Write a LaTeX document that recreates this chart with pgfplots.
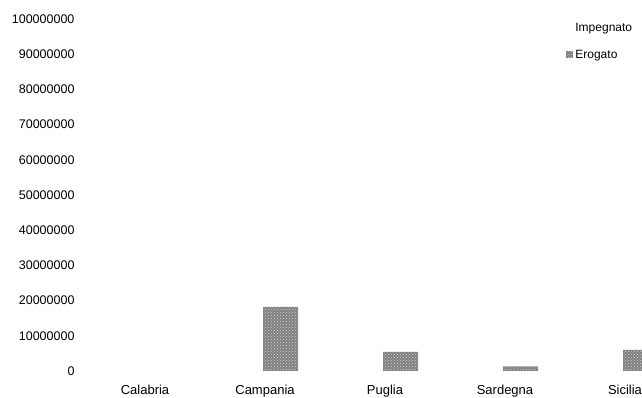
\documentclass[border=0pt]{standalone}
\usepackage{fontspec}
\setmainfont{Liberation Sans}
\usepackage{pgfplots}
\pgfplotsset{compat=1.18}
\usetikzlibrary{patterns}

\begin{document}
\begin{tikzpicture}
\clip (0,0) rectangle (642pt,398pt);
\begin{axis}[
  at={(85pt,27pt)}, anchor=south west,
  scale only axis, width=600pt, height=352pt,
  xmin=-0.5, xmax=4.5, ymin=0, ymax=100000000,
  ybar, bar width=35pt,
  axis line style={draw=none},
  tick style={draw=none},
  xtick={0,1,2,3,4},
  xticklabels={Calabria,Campania,Puglia,Sardegna,Sicilia},
  xticklabel style={font=\fontsize{13}{14}\selectfont, yshift=-6pt},
  ytick={0,10000000,20000000,30000000,40000000,50000000,60000000,70000000,80000000,90000000,100000000},
  scaled y ticks=false,
  /pgf/number format/assume math mode=true,
  yticklabel style={/pgf/number format/fixed, /pgf/number format/1000 sep={},
    font=\fontsize{12.5}{13}\selectfont, xshift=-7pt},
  legend style={at={(0.797,1.0)}, anchor=north west, draw=none, fill=none,
    font=\fontsize{12}{13}\selectfont, row sep=13pt},
  legend cell align=left,
]
\addlegendimage{empty legend}
\addlegendentry{Impegnato}
% Erogato: amounts paid out per region (Calabria: nothing paid)
\addplot[draw=none, fill=black!50,
  postaction={pattern=crosshatch dots, pattern color=white!85!black},
  bar shift=15.5pt,
  legend image code/.code={\fill[black!50] (0pt,-3.5pt) rectangle (7pt,3.5pt);}]
  coordinates {(1,18200000) (2,5400000) (3,1300000) (4,6000000)};
\addlegendentry{Erogato}
\end{axis}
\end{tikzpicture}
\end{document}
